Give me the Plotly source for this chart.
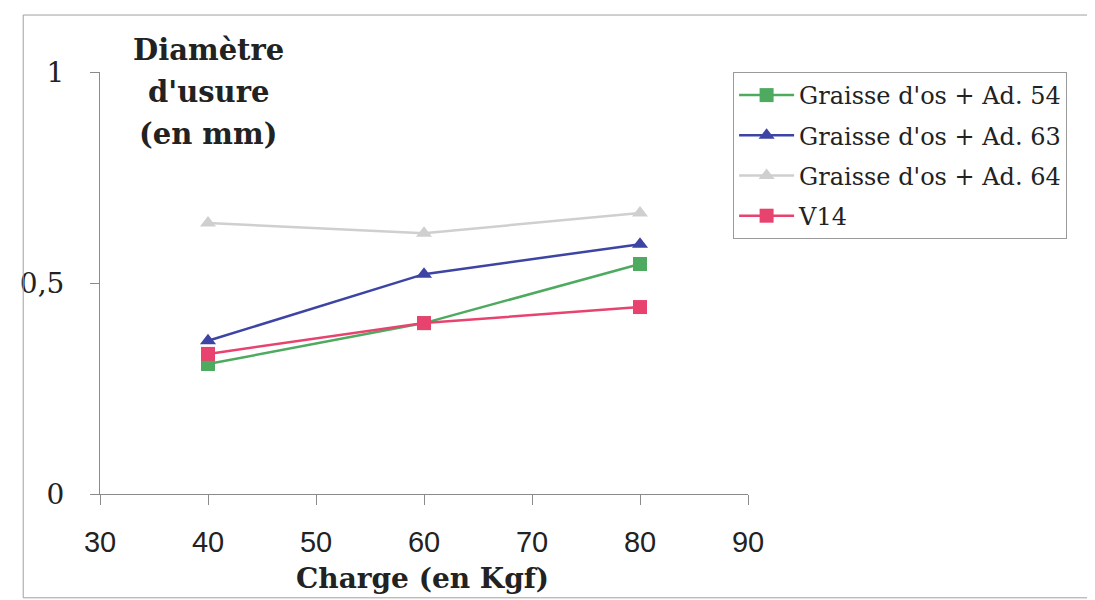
import plotly.graph_objects as go

# Data
charges = [40, 60, 80]
ad54 = [0.308, 0.405, 0.545]
ad63 = [0.363, 0.521, 0.592]
ad64 = [0.642, 0.618, 0.666]
v14 = [0.332, 0.405, 0.443]

series_names = ["Graisse d'os + Ad. 54", "Graisse d'os + Ad. 63", "Graisse d'os + Ad. 64", "V14"]
y_tick_vals = [0, 0.5, 1]
y_tick_text = ["0", "0,5", "1"]
x_tick_vals = [30, 40, 50, 60, 70, 80, 90]
y_title_lines = ["Diamètre", "d'usure", "(en mm)"]
x_title = "Charge (en Kgf)"

colors = ["#4daa5f", "#3d44a3", "#cfcfcf", "#e8436f"]
symbols = ["square", "triangle-up", "triangle-up", "square"]
values = [ad54, ad63, ad64, v14]

fig = go.Figure()
for i, (name, vals) in enumerate(zip(series_names, values)):
    fig.add_trace(go.Scatter(
        x=charges, y=vals, name=name, mode="lines+markers",
        legendgroup=f"g{i}",
        line=dict(color=colors[i], width=2.5),
        marker=dict(symbol=symbols[i], size=14, color=colors[i]),
    ))

serif = "DejaVu Serif"
fig.update_layout(
    width=1087, height=592,
    paper_bgcolor="white", plot_bgcolor="white",
    margin=dict(l=82, r=347, t=64, b=106),
    separators=", ",
    showlegend=True,
    legend=dict(
        x=0.977, y=1.0, xanchor="left", yanchor="top",
        bordercolor="#9a9a9a", borderwidth=1,
        font=dict(family=serif, size=24, color="#222"),
        traceorder="grouped", tracegroupgap=6,
        itemwidth=55,
    ),
    xaxis=dict(
        range=[30, 90], tickvals=x_tick_vals,
        showline=True, linecolor="#8a8a8a", linewidth=1,
        ticks="outside", ticklen=10, tickcolor="#8a8a8a",
        showgrid=False, zeroline=False,
        tickfont=dict(family="Liberation Sans", size=29, color="#222"),
        ticklabelstandoff=12,
    ),
    yaxis=dict(
        range=[0, 1], tickvals=y_tick_vals, ticktext=y_tick_text,
        showline=True, linecolor="#8a8a8a", linewidth=1,
        ticks="outside", ticklen=9, tickcolor="#8a8a8a",
        showgrid=False, zeroline=False,
        tickfont=dict(family=serif, size=28, color="#222"),
        ticklabelstandoff=20,
    ),
)

# Y axis title as stacked lines
for k, line in enumerate(y_title_lines):
    fig.add_annotation(
        text=f"<b>{line}</b>", xref="paper", yref="paper",
        x=0.167, y=(494 - (50 + 42 * k)) / 422,
        xanchor="center", yanchor="middle", showarrow=False,
        font=dict(family=serif, size=29, color="#222"),
    )

fig.add_annotation(
    text=f"<b>{x_title}</b>", xref="paper", yref="paper",
    x=0.498, y=-0.2, xanchor="center", yanchor="middle", showarrow=False,
    font=dict(family=serif, size=28, color="#222"),
)

# Outer chart frame (left, top, bottom edges; right edge lies beyond the view)
fig.add_shape(type="path", xref="paper", yref="paper",
              path="M 1.56,1.135 L -0.1185,1.135 L -0.1185,-0.246 L 1.56,-0.246",
              line=dict(color="#a0a0a0", width=1))

fig.write_html("out.html")
